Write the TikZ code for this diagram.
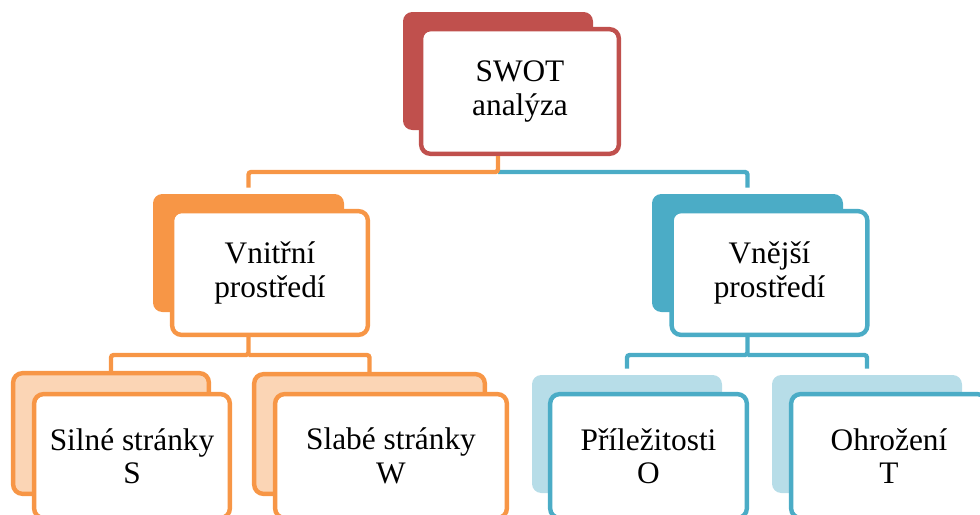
\documentclass[tikz,border=0pt]{standalone}
\usepackage{fontspec}
\setmainfont{Liberation Serif}
\usepackage{xcolor}

\definecolor{swotred}{RGB}{192,80,77}
\definecolor{inorange}{RGB}{247,150,70}
\definecolor{exblue}{RGB}{75,172,198}
\definecolor{inlight}{RGB}{251,213,181}
\definecolor{exlight}{RGB}{183,221,232}

\tikzset{
  backcard/.style={rounded corners=7pt, inner sep=0pt},
  frontcard/.style={draw, line width=3.3pt, fill=white, rounded corners=7pt,
    inner sep=0pt, align=center, font=\fontsize{23.5}{25}\selectfont},
  wire/.style={line width=3.3pt, rounded corners=2pt},
}

\begin{document}
\begin{tikzpicture}[x=0.75pt,y=0.75pt,yscale=-1,xscale=1]
\useasboundingbox (0,0) rectangle (980,514);
\clip (0,0) rectangle (980,514);

% SWOT analyza
\node[backcard, fill=swotred, minimum width=142.5pt, minimum height=88.5pt] (swotb) at (498,71) {};
\node[frontcard, draw=swotred, minimum width=148.3pt, minimum height=93.5pt] (swot) at (520,91.5) {SWOT\\analýza};

% Vnitrni prostredi
\node[backcard, fill=inorange, minimum width=143.25pt, minimum height=88.5pt] (vnib) at (248.5,253) {};
\node[frontcard, draw=inorange, minimum width=146.8pt, minimum height=92.8pt] (vni) at (270,273) {Vnitřní\\prostředí};

% Vnejsi prostredi
\node[backcard, fill=exblue, minimum width=143.25pt, minimum height=88.5pt] (vneb) at (747.5,253) {};
\node[frontcard, draw=exblue, minimum width=146.8pt, minimum height=92.8pt] (vne) at (769.5,273) {Vnější\\prostředí};

% Silne stranky
\node[backcard, draw=inorange, line width=3.3pt, fill=inlight, minimum width=146.8pt, minimum height=90.5pt] (silb) at (111,433.5) {};
\node[frontcard, draw=inorange, minimum width=146.8pt, minimum height=92.8pt] (sil) at (132,456) {Silné stránky\\S};

% Slabe stranky
\node[backcard, draw=inorange, line width=3.3pt, fill=inlight, minimum width=173pt, minimum height=89.8pt] (slab) at (369.5,434) {};
\node[frontcard, draw=inorange, minimum width=173.8pt, minimum height=92.8pt] (sla) at (391,456) {Slabé stránky\\W};

% Prilezitosti
\node[backcard, fill=exlight, minimum width=142.5pt, minimum height=88.5pt] (prib) at (627,434) {};
\node[frontcard, draw=exblue, minimum width=147.5pt, minimum height=92.8pt] (pri) at (648.5,456) {Příležitosti\\O};

% Ohrozeni
\node[backcard, fill=exlight, minimum width=142.5pt, minimum height=88.5pt] (ohrb) at (867,434) {};
\node[frontcard, draw=exblue, minimum width=146.8pt, minimum height=92.8pt] (ohr) at (889,456) {Ohrožení\\T};

% connectors
\coordinate (topbus) at (498,172);
\coordinate (inbus) at (248.5,355);
\coordinate (exbus) at (747.5,355);
\draw[wire, color=exblue, shorten >=4.5pt] (topbus) -| (vneb.north);
\draw[wire, color=inorange, shorten >=4.5pt] (swotb |- swot.south) -- (topbus) -| (vnib.north);
\draw[wire, color=inorange] (vnib |- vni.south) -- (inbus) -| (silb.north);
\draw[wire, color=inorange] (inbus) -| (slab.north);
\draw[wire, color=exblue, shorten >=4.5pt] (vneb |- vne.south) -- (exbus) -| (prib.north);
\draw[wire, color=exblue, shorten >=4.5pt] (exbus) -| (ohrb.north);

\end{tikzpicture}
\end{document}
